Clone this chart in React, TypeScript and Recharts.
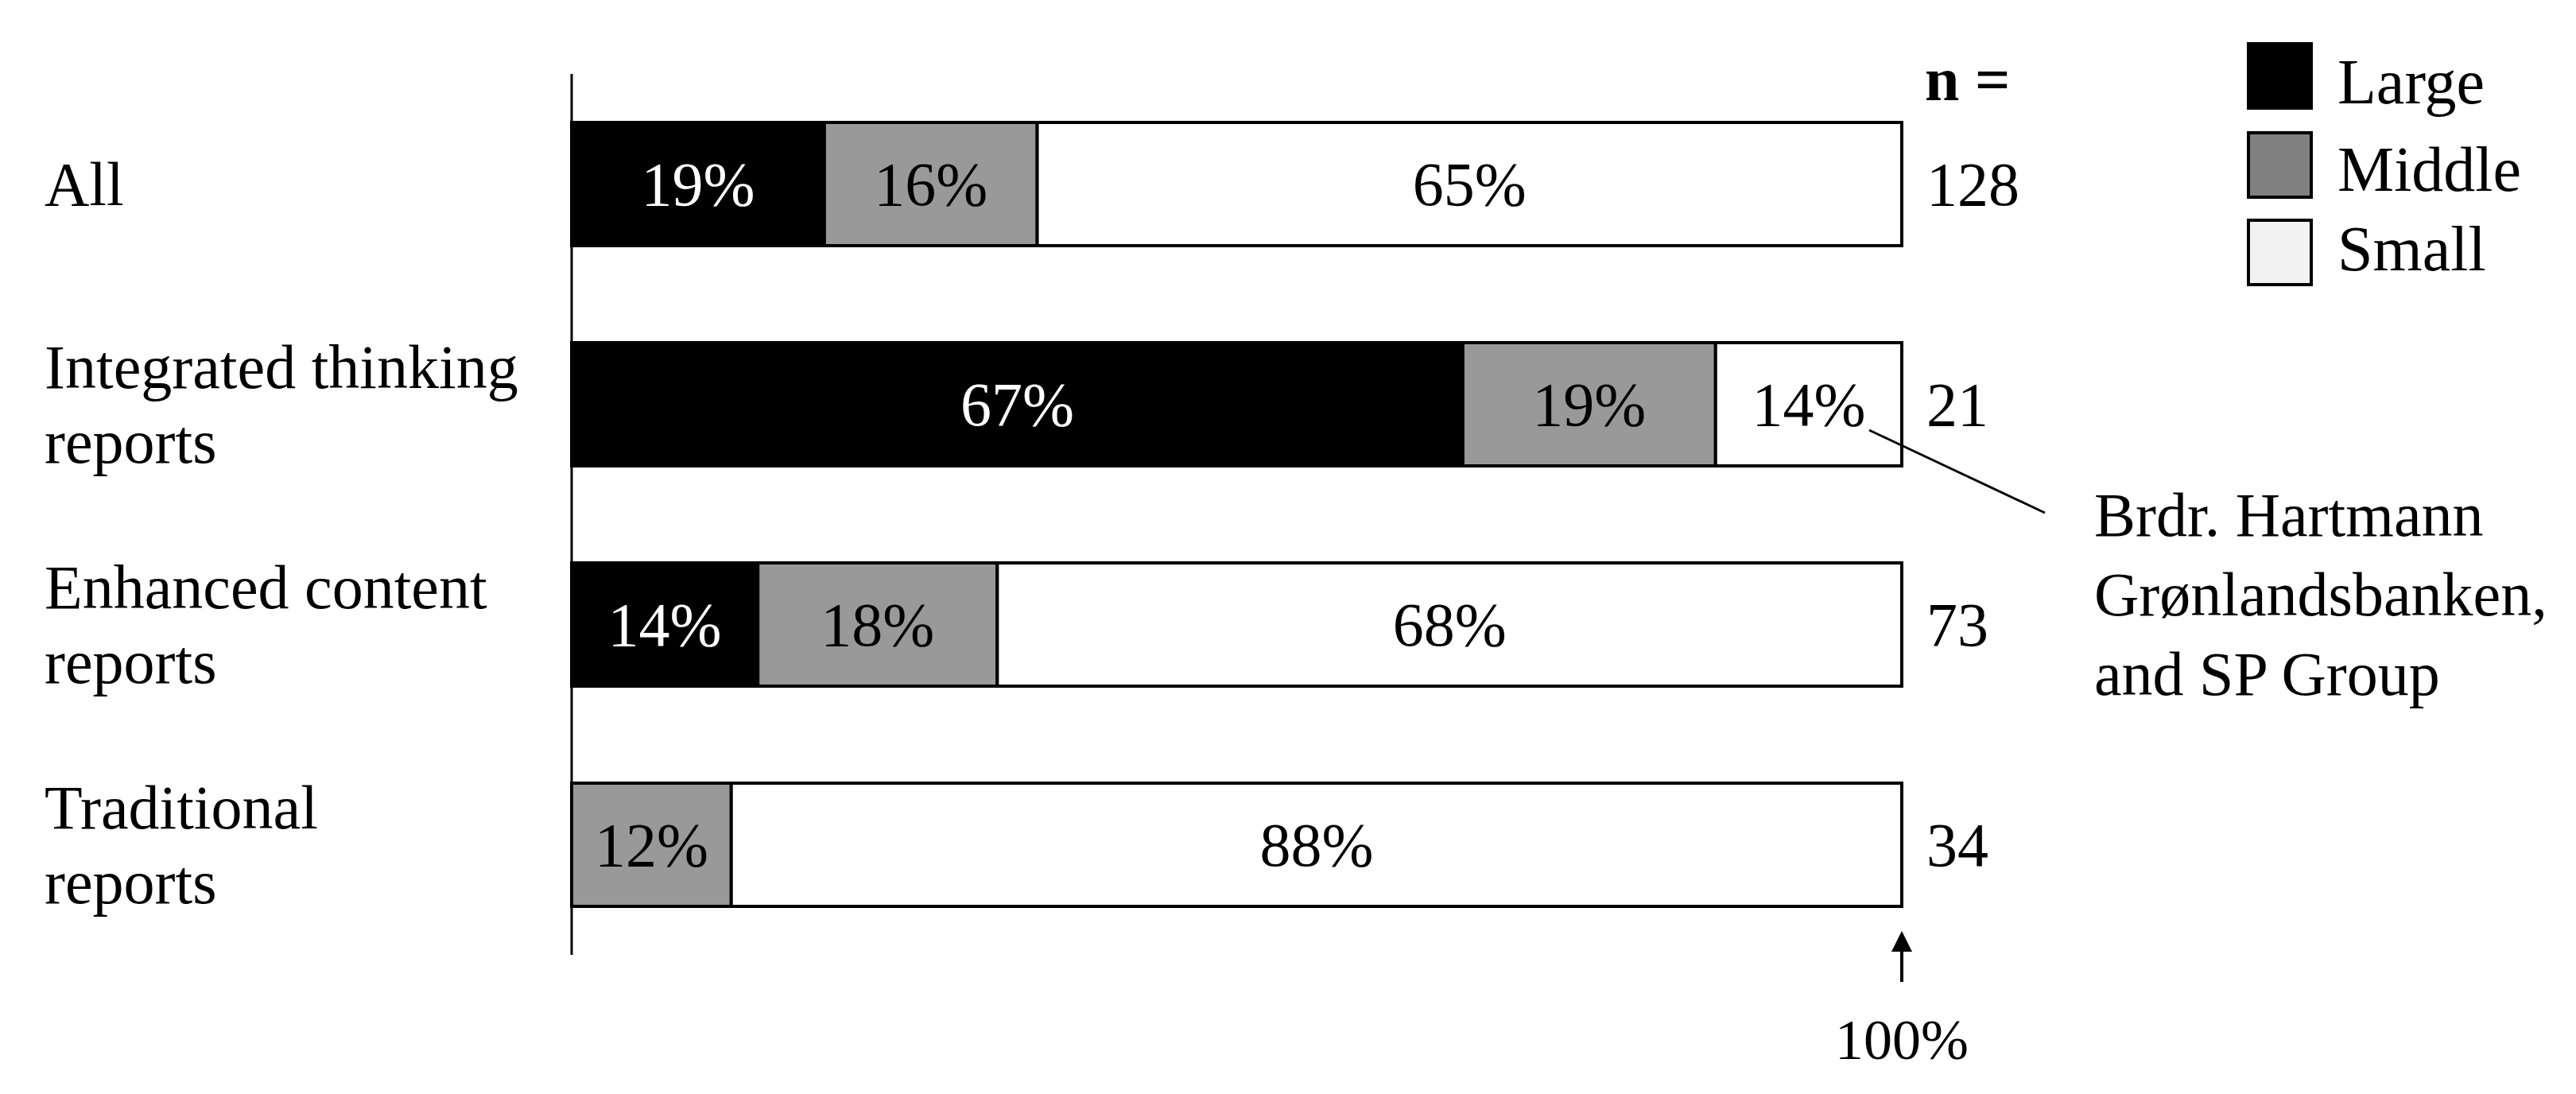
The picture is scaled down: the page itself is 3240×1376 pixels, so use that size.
import React from 'react';
import { BarChart, Bar, XAxis, YAxis, LabelList } from 'recharts';

const categories = ['All', 'Integrated thinking reports', 'Enhanced content reports', 'Traditional reports'];
const categoryLines = [['All'], ['Integrated thinking', 'reports'], ['Enhanced content', 'reports'], ['Traditional', 'reports']];
const largeValues = [19, 67, 14, 0];
const middleValues = [16, 19, 18, 12];
const smallValues = [65, 14, 68, 88];
const nValues = [128, 21, 73, 34];
const seriesNames = ['Large', 'Middle', 'Small'];
const barColors = ['#000000', '#999999', '#ffffff'];
const legendColors = ['#000000', '#808080', '#f2f2f2'];
const labelColors = ['#ffffff', '#000000', '#000000'];
const annotationLines = ['Brdr. Hartmann', 'Grønlandsbanken,', 'and SP Group'];

const FONT = "'Liberation Serif', 'Times New Roman', serif";
const FS = 78;
const W = 3232;
const H = 1368;

const data = categories.map((name, i) => ({
  name,
  large: largeValues[i],
  middle: middleValues[i],
  small: smallValues[i],
  n: nValues[i],
}));

const CategoryTick = (props: any) => {
  const { y, index } = props;
  const lines = categoryLines[index] || [String(props.payload?.value)];
  const offsets = lines.length === 1 ? [0] : [-47, 47];
  return (
    <g>
      {lines.map((l, k) => (
        <text key={k} x={48} y={y + offsets[k]} textAnchor="start" dominantBaseline="central"
          fontSize={FS} fontFamily={FONT} fill="#000">{l}</text>
      ))}
    </g>
  );
};

const makeValueLabel = (color: string) => (props: any) => {
  const vb = props.viewBox || {};
  const x = props.x ?? vb.x;
  const y = props.y ?? vb.y;
  const width = props.width ?? vb.width;
  const height = props.height ?? vb.height;
  const value = props.value;
  if (!value) return null;
  return (
    <text x={x + width / 2} y={y + height / 2} textAnchor="middle" dominantBaseline="central"
      fontSize={FS} fontFamily={FONT} fill={color}>{`${value}%`}</text>
  );
};

const NLabel = (props: any) => {
  const vb = props.viewBox || {};
  const x = props.x ?? vb.x;
  const y = props.y ?? vb.y;
  const width = props.width ?? vb.width;
  const height = props.height ?? vb.height;
  return (
    <text x={x + width + 31} y={y + height / 2} textAnchor="start" dominantBaseline="central"
      fontSize={FS} fontFamily={FONT} fill="#000">{props.value}</text>
  );
};

const keys = ['large', 'middle', 'small'];
const legendBoxY = [47, 159, 269];
const legendTextY = [95, 205, 305];

export default function App() {
  return (
    <div style={{ position: 'relative', width: W, height: H }}>
      <BarChart width={W} height={H} data={data} layout="vertical"
        margin={{ top: 85, right: 848, bottom: 175, left: 0 }} barSize={155}>
        <XAxis type="number" domain={[0, 100]} hide />
        <YAxis type="category" dataKey="name" width={711} tickLine={false}
          axisLine={{ stroke: '#000', strokeWidth: 3 }} tick={<CategoryTick />} interval={0} />
        {keys.map((k, i) => (
          <Bar key={k} dataKey={k} name={seriesNames[i]} stackId="a" fill={barColors[i]}
            stroke="#000" strokeWidth={4} isAnimationActive={false}>
            <LabelList dataKey={k} content={makeValueLabel(labelColors[i])} />
            {k === 'small' ? <LabelList dataKey="n" content={<NLabel />} /> : null}
          </Bar>
        ))}
      </BarChart>
      <svg width={W} height={H} style={{ position: 'absolute', left: 0, top: 0, pointerEvents: 'none' }}>
        <text x={2413} y={91} fontWeight="bold" fontSize={FS} fontFamily={FONT} dominantBaseline="central">n =</text>
        {seriesNames.map((s, i) => (
          <g key={s}>
            <rect x={2820} y={legendBoxY[i]} width={79} height={81} fill={legendColors[i]} stroke="#000" strokeWidth={4} />
            <text x={2932} y={legendTextY[i]} fontSize={80} fontFamily={FONT} dominantBaseline="central">{s}</text>
          </g>
        ))}
        <line x1={2343} y1={533} x2={2564} y2={637} stroke="#000" strokeWidth={3} />
        {annotationLines.map((l, i) => (
          <text key={i} x={2626} y={639 + i * 100} fontSize={FS} fontFamily={FONT} dominantBaseline="central">{l}</text>
        ))}
        <line x1={2384} y1={1227} x2={2384} y2={1185} stroke="#000" strokeWidth={4} />
        <polygon points="2384,1163 2371,1189 2397,1189" fill="#000" />
        <text x={2384} y={1300} textAnchor="middle" fontSize={72} fontFamily={FONT} dominantBaseline="central">100%</text>
      </svg>
    </div>
  );
}
